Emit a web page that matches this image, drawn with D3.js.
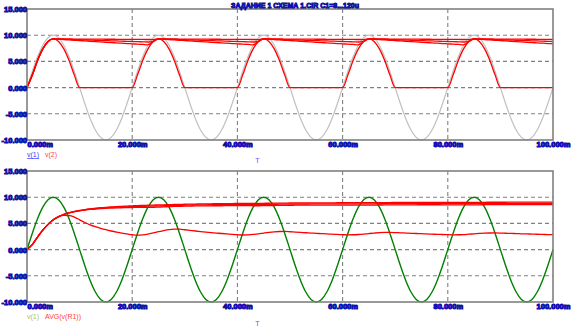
<!DOCTYPE html>
<html>
<head>
<meta charset="utf-8">
<script src="https://cdn.jsdelivr.net/npm/d3@7"></script>
<style>
  body { margin: 0; background: #fff; }
  svg { display: block; }
</style>
</head>
<body>
<svg id="chart" width="571" height="332"></svg>
<script>
// Transient analysis: half-wave rectifier, C1 swept
const title = "ЗАДАНИЕ 1 СХЕМА 1.CIR C1=8...120u";

// time axis, ms (1 ms sampling)
const timeMs = d3.range(0, 101);

const yTicks = [-10, -5, 0, 5, 10, 15];
const yTickLabels = ["-10.000", "-5.000", "0.000", "5.000", "10.000", "15.000"];
const xTicks = [0, 20, 40, 60, 80, 100];
const xTickLabels = ["0.000m", "20.000m", "40.000m", "60.000m", "80.000m", "100.000m"];
const gridY = [-5, 0, 5, 10];
const gridX = [20, 40, 60, 80];

// source voltage v(1), V
const v1 = [
  0,3.09,5.88,8.09,9.51,10,9.51,8.09,5.88,3.09,0,-3.09,-5.88,-8.09,-9.51,-10,-9.51,-8.09,-5.88,-3.09,
  0,3.09,5.88,8.09,9.51,10,9.51,8.09,5.88,3.09,0,-3.09,-5.88,-8.09,-9.51,-10,-9.51,-8.09,-5.88,-3.09,
  0,3.09,5.88,8.09,9.51,10,9.51,8.09,5.88,3.09,0,-3.09,-5.88,-8.09,-9.51,-10,-9.51,-8.09,-5.88,-3.09,
  0,3.09,5.88,8.09,9.51,10,9.51,8.09,5.88,3.09,0,-3.09,-5.88,-8.09,-9.51,-10,-9.51,-8.09,-5.88,-3.09,
  0,3.09,5.88,8.09,9.51,10,9.51,8.09,5.88,3.09,0,-3.09,-5.88,-8.09,-9.51,-10,-9.51,-8.09,-5.88,-3.09,
  0
];

// output voltage v(2) for each C1 step
const v2Step1 = [
  0,2.39,5.18,7.39,8.81,9.3,8.81,7.39,5.18,2.39,0,0,0,0,0,0,0,0,0,0,
  0,2.39,5.18,7.39,8.81,9.3,8.81,7.39,5.18,2.39,0,0,0,0,0,0,0,0,0,0,
  0,2.39,5.18,7.39,8.81,9.3,8.81,7.39,5.18,2.39,0,0,0,0,0,0,0,0,0,0,
  0,2.39,5.18,7.39,8.81,9.3,8.81,7.39,5.18,2.39,0,0,0,0,0,0,0,0,0,0,
  0,2.39,5.18,7.39,8.81,9.3,8.81,7.39,5.18,2.39,0,0,0,0,0,0,0,0,0,0,
  0
];
const v2Step2 = [
  0,2.39,5.18,7.39,8.81,9.30,9.23,9.17,9.10,9.04,8.97,8.91,8.84,8.78,8.72,8.65,8.59,8.53,8.47,8.41,
  8.35,8.29,8.23,8.17,8.81,9.30,9.23,9.17,9.10,9.04,8.97,8.91,8.84,8.78,8.72,8.65,8.59,8.53,8.47,8.41,
  8.35,8.29,8.23,8.17,8.81,9.30,9.23,9.17,9.10,9.04,8.97,8.91,8.84,8.78,8.72,8.65,8.59,8.53,8.47,8.41,
  8.35,8.29,8.23,8.17,8.81,9.30,9.23,9.17,9.10,9.04,8.97,8.91,8.84,8.78,8.72,8.65,8.59,8.53,8.47,8.41,
  8.35,8.29,8.23,8.17,8.81,9.30,9.23,9.17,9.10,9.04,8.97,8.91,8.84,8.78,8.72,8.65,8.59,8.53,8.47,8.41,
  8.35
];
const v2Step3 = [
  0,2.39,5.18,7.39,8.81,9.30,9.27,9.23,9.20,9.16,9.13,9.10,9.06,9.03,9.00,8.96,8.93,8.90,8.87,8.83,
  8.80,8.77,8.74,8.70,8.81,9.30,9.27,9.23,9.20,9.16,9.13,9.10,9.06,9.03,9.00,8.96,8.93,8.90,8.87,8.83,
  8.80,8.77,8.74,8.70,8.81,9.30,9.27,9.23,9.20,9.16,9.13,9.10,9.06,9.03,9.00,8.96,8.93,8.90,8.87,8.83,
  8.80,8.77,8.74,8.70,8.81,9.30,9.27,9.23,9.20,9.16,9.13,9.10,9.06,9.03,9.00,8.96,8.93,8.90,8.87,8.83,
  8.80,8.77,8.74,8.70,8.81,9.30,9.27,9.23,9.20,9.16,9.13,9.10,9.06,9.03,9.00,8.96,8.93,8.90,8.87,8.83,
  8.80
];
const v2Step4 = [
  0,2.39,5.18,7.39,8.81,9.30,9.29,9.29,9.28,9.27,9.27,9.26,9.25,9.25,9.24,9.23,9.23,9.22,9.21,9.21,
  9.20,9.19,9.19,9.18,9.17,9.30,9.29,9.29,9.28,9.27,9.27,9.26,9.25,9.25,9.24,9.23,9.23,9.22,9.21,9.21,
  9.20,9.19,9.19,9.18,9.17,9.30,9.29,9.29,9.28,9.27,9.27,9.26,9.25,9.25,9.24,9.23,9.23,9.22,9.21,9.21,
  9.20,9.19,9.19,9.18,9.17,9.30,9.29,9.29,9.28,9.27,9.27,9.26,9.25,9.25,9.24,9.23,9.23,9.22,9.21,9.21,
  9.20,9.19,9.19,9.18,9.17,9.30,9.29,9.29,9.28,9.27,9.27,9.26,9.25,9.25,9.24,9.23,9.23,9.22,9.21,9.21,
  9.20
];

// running average AVG(v(R1)) for each C1 step
const avgStep1 = [
  0,0.94,2.38,3.70,4.82,5.68,6.26,6.53,6.51,6.21,5.68,5.17,4.73,4.37,4.06,3.79,3.55,3.34,3.16,2.99,
  2.84,2.75,2.80,2.95,3.17,3.41,3.63,3.80,3.89,3.89,3.79,3.67,3.55,3.44,3.34,3.25,3.16,3.07,2.99,2.91,
  2.84,2.79,2.82,2.90,3.02,3.16,3.29,3.39,3.45,3.46,3.41,3.34,3.28,3.22,3.16,3.10,3.04,2.99,2.94,2.89,
  2.84,2.81,2.83,2.88,2.96,3.06,3.15,3.23,3.27,3.28,3.25,3.20,3.16,3.11,3.07,3.03,2.99,2.95,2.91,2.88,
  2.84,2.82,2.83,2.87,2.94,3.01,3.08,3.14,3.17,3.18,3.16,3.12,3.09,3.06,3.02,2.99,2.96,2.93,2.90,2.87,
  2.84
];
const avgStep2 = [
  0,0.94,2.38,3.70,4.82,5.68,6.28,6.70,7.00,7.23,7.41,7.55,7.66,7.75,7.82,7.88,7.92,7.96,7.99,8.01,8.03,
  8.05,8.06,8.06,8.07,8.12,8.16,8.20,8.23,8.26,8.29,8.31,8.33,8.34,8.35,8.36,8.37,8.37,8.38,8.38,8.38,
  8.38,8.38,8.37,8.37,8.39,8.41,8.42,8.44,8.45,8.46,8.47,8.48,8.49,8.49,8.49,8.50,8.50,8.50,8.50,8.49,
  8.49,8.49,8.48,8.48,8.49,8.50,8.51,8.52,8.53,8.54,8.54,8.55,8.55,8.55,8.56,8.56,8.56,8.56,8.55,8.55,
  8.55,8.55,8.54,8.54,8.55,8.55,8.56,8.57,8.57,8.58,8.58,8.59,8.59,8.59,8.59,8.59,8.59,8.59,8.59,8.59
];
const avgStep3 = [
  0,0.94,2.38,3.70,4.82,5.68,6.28,6.71,7.02,7.26,7.45,7.60,7.72,7.83,7.91,7.98,8.04,8.09,8.14,8.17,8.21,
  8.23,8.26,8.28,8.30,8.33,8.37,8.40,8.43,8.45,8.48,8.50,8.52,8.53,8.55,8.56,8.57,8.58,8.59,8.59,8.60,
  8.60,8.61,8.61,8.61,8.62,8.64,8.65,8.66,8.67,8.68,8.69,8.70,8.70,8.71,8.72,8.72,8.72,8.73,8.73,8.73,
  8.73,8.73,8.73,8.73,8.74,8.74,8.75,8.76,8.76,8.77,8.78,8.78,8.78,8.79,8.79,8.79,8.79,8.79,8.79,8.79,
  8.79,8.79,8.79,8.79,8.80,8.80,8.81,8.81,8.82,8.82,8.82,8.83,8.83,8.83,8.83,8.83,8.83,8.83,8.83,8.83
];
const avgStep4 = [
  0,0.94,2.38,3.70,4.82,5.68,6.28,6.71,7.04,7.28,7.48,7.64,7.78,7.89,7.99,8.07,8.14,8.21,8.26,8.31,8.36,
  8.40,8.43,8.47,8.50,8.53,8.55,8.58,8.61,8.63,8.65,8.67,8.69,8.71,8.72,8.74,8.75,8.76,8.78,8.79,8.80,
  8.81,8.82,8.82,8.83,8.84,8.85,8.86,8.87,8.88,8.89,8.89,8.90,8.91,8.91,8.92,8.92,8.93,8.93,8.94,8.94,
  8.95,8.95,8.96,8.96,8.96,8.97,8.97,8.98,8.98,8.99,8.99,8.99,9.00,9.00,9.00,9.01,9.01,9.01,9.01,9.02,
  9.02,9.02,9.02,9.02,9.03,9.03,9.03,9.04,9.04,9.04,9.04,9.05,9.05,9.05,9.05,9.05,9.06,9.06,9.06,9.06
];

const svg = d3.select("#chart");
const plotLeft = 27, plotRight = 553;
const x = d3.scaleLinear().domain([0, 100]).range([plotLeft, plotRight]);

const labelFont = "'Liberation Sans', Arial, sans-serif";

function styleTickText(sel) {
  sel.attr("font-family", labelFont)
    .attr("font-size", "7.5px")
    .attr("font-weight", "bold")
    .attr("fill", "#1414d8")
    .attr("stroke", "#00006e")
    .attr("stroke-width", 0.9)
    .attr("paint-order", "stroke");
}

function drawPanel(top, bottom, series, legend, tLabelY) {
  const y = d3.scaleLinear().domain([-10, 15]).range([bottom, top]);
  const g = svg.append("g");

  // dashed grid
  g.selectAll(".gy").data(gridY).join("line")
    .attr("x1", plotLeft).attr("x2", plotRight)
    .attr("y1", d => y(d)).attr("y2", d => y(d))
    .attr("stroke", "#808080").attr("stroke-width", 1.1)
    .attr("stroke-dasharray", "4,3");
  g.selectAll(".gx").data(gridX).join("line")
    .attr("x1", d => x(d)).attr("x2", d => x(d))
    .attr("y1", top).attr("y2", bottom)
    .attr("stroke", "#808080").attr("stroke-width", 1.1)
    .attr("stroke-dasharray", "4,3");

  // traces
  const line = d3.line()
    .x((d, i) => x(timeMs[i]))
    .y(d => y(d))
    .curve(d3.curveMonotoneX);
  series.forEach(s => {
    g.append("path")
      .attr("d", line(s.values))
      .attr("fill", "none")
      .attr("stroke", s.color)
      .attr("stroke-width", s.width);
  });

  // frame
  g.append("rect")
    .attr("x", plotLeft).attr("y", top)
    .attr("width", plotRight - plotLeft).attr("height", bottom - top)
    .attr("fill", "none").attr("stroke", "#808080").attr("stroke-width", 1.6);

  // y axis labels
  const yAxis = d3.axisLeft(y).tickValues(yTicks)
    .tickFormat((d, i) => yTickLabels[i]).tickSize(0).tickPadding(0);
  const ya = g.append("g").attr("transform", `translate(${plotLeft},0)`).call(yAxis);
  ya.select(".domain").remove();
  ya.selectAll("text").call(styleTickText);

  // x axis labels
  const xAxis = d3.axisBottom(x).tickValues(xTicks)
    .tickFormat((d, i) => xTickLabels[i]).tickSize(0).tickPadding(2);
  const xa = g.append("g").attr("transform", `translate(0,${bottom})`).call(xAxis);
  xa.select(".domain").remove();
  xa.selectAll("text").call(styleTickText);
  xa.selectAll("text").filter((d, i) => i === 0).attr("text-anchor", "start").attr("x", 0);

  // legend
  legend.forEach(item => {
    const t = g.append("text")
      .attr("x", item.x).attr("y", bottom + 17)
      .attr("font-family", labelFont)
      .attr("font-size", "7px")
      .attr("fill", item.color)
      .text(item.label);
    if (item.underline) t.attr("text-decoration", "underline");
  });

  // time axis name
  g.append("text")
    .attr("x", 257.5).attr("y", tLabelY)
    .attr("text-anchor", "middle")
    .attr("font-family", labelFont)
    .attr("font-size", "7px")
    .attr("fill", "#5a5aff")
    .text("T");
}

drawPanel(9, 140, [
  { values: v1, color: "#c0c0c0", width: 1.2 },
  { values: v2Step1, color: "#ff0000", width: 1.3 },
  { values: v2Step2, color: "#ff0000", width: 1.3 },
  { values: v2Step3, color: "#ff0000", width: 1.3 },
  { values: v2Step4, color: "#ff0000", width: 1.3 }
], [
  { label: "v(1)", x: 27, color: "#3c3cff", underline: true },
  { label: "v(2)", x: 45, color: "#ff3c3c" }
], 163);

drawPanel(171, 302, [
  { values: v1, color: "#008000", width: 1.4 },
  { values: avgStep1, color: "#ff0000", width: 1.3 },
  { values: avgStep2, color: "#ff0000", width: 1.3 },
  { values: avgStep3, color: "#ff0000", width: 1.3 },
  { values: avgStep4, color: "#ff0000", width: 1.3 }
], [
  { label: "v(1)", x: 27, color: "#9cc46a" },
  { label: "AVG(v(R1))", x: 45, color: "#ff3c3c" }
], 326);

// title
svg.append("text")
  .attr("x", 295).attr("y", 7.5)
  .attr("text-anchor", "middle")
  .attr("font-family", labelFont)
  .attr("font-size", "7.5px")
  .attr("font-weight", "bold")
  .attr("textLength", 128)
  .attr("lengthAdjust", "spacingAndGlyphs")
  .attr("fill", "#1414d8")
  .attr("stroke", "#00006e")
  .attr("stroke-width", 0.9)
  .attr("paint-order", "stroke")
  .text(title);
</script>
</body>
</html>
